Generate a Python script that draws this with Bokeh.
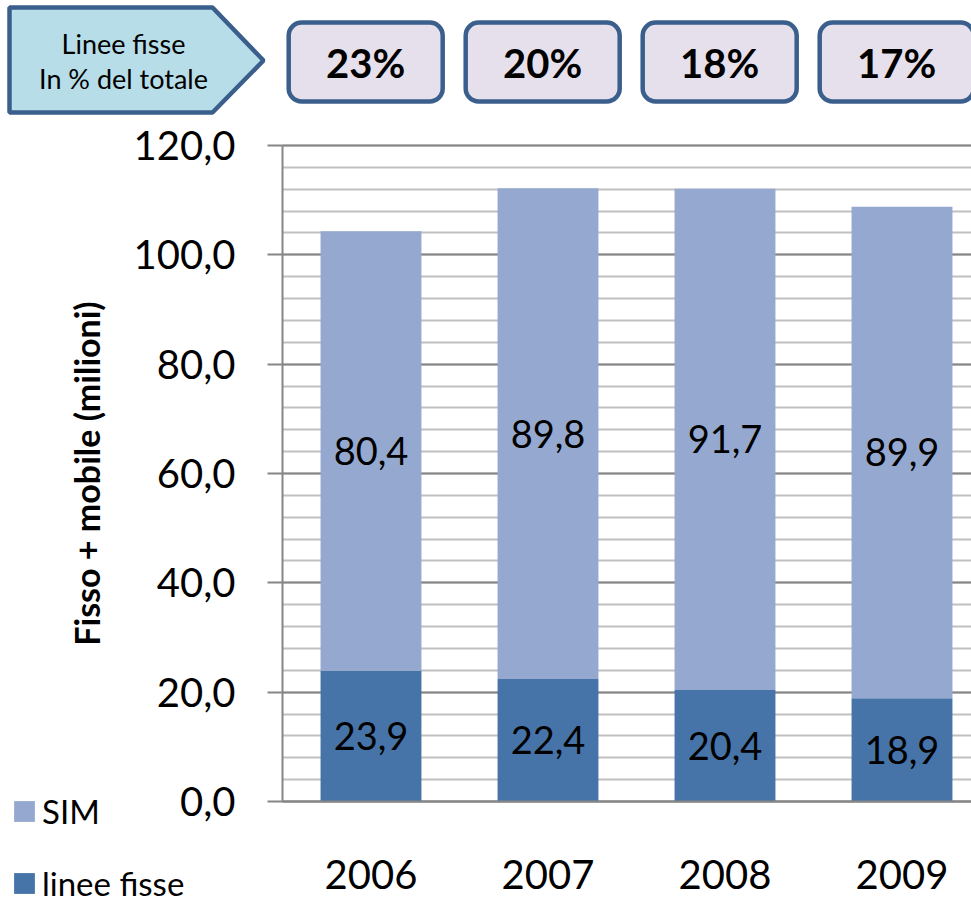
from bokeh.plotting import figure
from bokeh.models import (ColumnDataSource, Range1d, FixedTicker, Legend, LegendItem,
                          BoxAnnotation, PolyAnnotation, Label)
from bokeh.core.properties import value
from bokeh.embed import file_html
from bokeh.resources import INLINE

# ---------------- data ----------------
years = [2006, 2007, 2008, 2009]
linee_fisse = [23.9, 22.4, 20.4, 18.9]
sim = [80.4, 89.8, 91.7, 89.9]
pct_fisse = ["23%", "20%", "18%", "17%"]
y_ticks = [0, 20, 40, 60, 80, 100, 120]
y_tick_labels = ["0,0", "20,0", "40,0", "60,0", "80,0", "100,0", "120,0"]
series_names = ["linee fisse", "SIM"]
callout_lines = ["Linee fisse", "In % del totale"]
y_title = "Fisso + mobile (milioni)"

# ---------------- style / layout ----------------
FONT = "Lato"
C_FISSE = "#4674A8"
C_SIM = "#95A9D0"
C_AXIS = "#868686"
C_MINOR = "#C0C0C0"
C_BORDER = "#3A5F8D"
C_CALLOUT = "#B7DDE8"
C_BOX = "#E6E0EC"

W, H = 971, 903
AX_LEFT_PX = 282      # where the value axis sits
AX_BOTTOM_PX = 801    # where the category axis sits
AX_TOP_PX = 145       # where 120 sits
PX_PER_X = 177.0
PX_PER_Y = (AX_BOTTOM_PX - AX_TOP_PX) / 120.0
x_axis_start = years[0] - 0.5


def X(px):  # canvas px -> data x
    return x_axis_start + (px - AX_LEFT_PX) / PX_PER_X


def Y(py):  # canvas px -> data y
    return (AX_BOTTOM_PX - py) / PX_PER_Y


p = figure(width=W, height=H, output_backend="svg", toolbar_location=None,
           x_range=Range1d(X(0), X(W)), y_range=Range1d(Y(H), Y(0)), min_border=0)
p.outline_line_color = None
p.background_fill_color = "white"
p.border_fill_color = "white"

src = ColumnDataSource(dict(year=years, fisse=linee_fisse, sim=sim))
rs = p.vbar_stack(["fisse", "sim"], x="year", width=0.57, color=[C_FISSE, C_SIM],
                  line_color=None, source=src)

# value labels
lx, ly, lt = [], [], []
for yr, f, s in zip(years, linee_fisse, sim):
    lx += [yr, yr]
    ly += [f / 2.0, f + s / 2.0]
    lt += [f"{f:.1f}".replace(".", ","), f"{s:.1f}".replace(".", ",")]
p.text(x=lx, y=ly, text=lt, text_font=value(FONT), text_font_size="38px",
       text_align="center", text_baseline="middle", text_color="black")

# value axis
p.yaxis.fixed_location = x_axis_start
p.yaxis.bounds = (y_ticks[0], y_ticks[-1])
p.yaxis.ticker = FixedTicker(ticks=y_ticks, minor_ticks=list(range(0, 121, 4)))
p.yaxis.major_label_overrides = {t: l for t, l in zip(y_ticks, y_tick_labels)}
p.yaxis.major_tick_out = 15
p.yaxis.major_tick_in = 0
p.yaxis.minor_tick_out = 0
p.yaxis.minor_tick_in = 0
p.yaxis.minor_tick_line_color = None
p.yaxis.major_tick_line_color = C_AXIS
p.yaxis.major_tick_line_width = 2
p.yaxis.axis_line_color = C_AXIS
p.yaxis.axis_line_width = 2
p.yaxis.major_label_text_font = FONT
p.yaxis.major_label_text_font_size = "40px"
p.yaxis.major_label_text_color = "black"
p.yaxis.major_label_standoff = 32
p.yaxis.axis_label = y_title
p.yaxis.axis_label_text_font = FONT
p.yaxis.axis_label_text_font_style = "bold"
p.yaxis.axis_label_text_font_size = "34px"
p.yaxis.axis_label_text_color = "black"
p.yaxis.axis_label_standoff = 24

# category axis
p.xaxis.fixed_location = 0
p.xaxis.bounds = (x_axis_start, X(W))
p.xaxis.ticker = FixedTicker(ticks=years)
p.xaxis.major_tick_line_color = None
p.xaxis.minor_tick_line_color = None
p.xaxis.axis_line_color = C_AXIS
p.xaxis.axis_line_width = 2
p.xaxis.major_label_text_font = FONT
p.xaxis.major_label_text_font_size = "40px"
p.xaxis.major_label_text_color = "black"
p.xaxis.major_label_standoff = 52

p.xgrid.visible = False
p.ygrid.cross_bounds = (x_axis_start, X(W))
p.ygrid.grid_line_color = C_AXIS
p.ygrid.grid_line_width = 2
p.ygrid.minor_grid_line_color = C_MINOR
p.ygrid.minor_grid_line_width = 2

# legend (bottom-left); area glyphs are drawn with a 10% inset
legend = Legend(items=[LegendItem(label=series_names[1], renderers=[rs[1]]),
                       LegendItem(label=series_names[0], renderers=[rs[0]])],
                location=(11, 0),
                glyph_width=26, glyph_height=26, label_standoff=5, spacing=32,
                padding=0, margin=0, border_line_color=None, background_fill_alpha=0,
                label_text_font=FONT, label_text_font_size="33px", label_text_color="black")
p.add_layout(legend, "center")

# callout pentagon
p.add_layout(PolyAnnotation(xs=[X(9), X(212), X(263), X(212), X(9)],
                            ys=[Y(7), Y(7), Y(60), Y(112), Y(112)],
                            fill_color=C_CALLOUT, fill_alpha=1, line_color=C_BORDER,
                            line_alpha=1, line_width=4.5))
for txt, py in zip(callout_lines, [43, 78]):
    p.add_layout(Label(x=X(123), y=Y(py), text=txt, text_align="center",
                       text_baseline="middle", text_font=FONT, text_font_size="27px",
                       text_color="black"))

# percentage boxes
half_w = 77 / PX_PER_X
for yr, pct in zip(years, pct_fisse):
    cx = yr - 0.03
    p.add_layout(BoxAnnotation(left=cx - half_w, right=cx + half_w, bottom=Y(101), top=Y(22),
                               fill_color=C_BOX, fill_alpha=1, line_color=C_BORDER,
                               line_alpha=1, line_width=4.5, border_radius=13))
    p.add_layout(Label(x=cx, y=Y(62), text=pct, text_align="center", text_baseline="middle",
                       text_font=FONT, text_font_style="bold", text_font_size="40px",
                       text_color="black"))

open("out.html", "w").write(file_html(p, INLINE))
